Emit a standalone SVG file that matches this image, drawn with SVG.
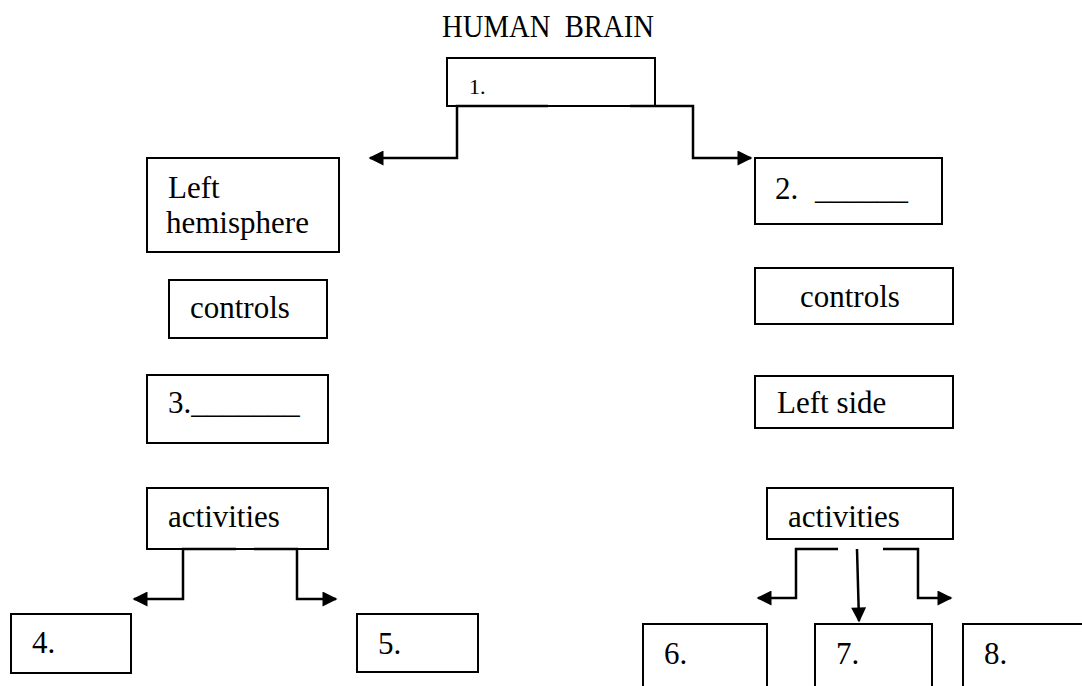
<svg xmlns="http://www.w3.org/2000/svg" width="1082" height="686" viewBox="0 0 1082 686">
<style>
.box{fill:#fff;stroke:#000;stroke-width:2}
.t{font-family:'Liberation Serif',serif;font-size:31px;fill:#000}
.c{fill:none;stroke:#000;stroke-width:2.5}
</style>
<defs>
<marker id="ah" viewBox="0 0 10 10" refX="9" refY="5" markerWidth="7" markerHeight="6" orient="auto" markerUnits="strokeWidth">
<path d="M0,0 L10,5 L0,10 z" fill="#000"/>
</marker>
</defs>
<rect width="1082" height="686" fill="#fff"/>
<g id="title"><text class="t" x="442" y="37" font-size="29" textLength="212" lengthAdjust="spacingAndGlyphs" xml:space="preserve">HUMAN  BRAIN</text></g>
<g id="n1"><rect class="box" x="447" y="58" width="208" height="48"/><text class="t" x="469" y="94" style="font-size:22px">1.</text></g>
<g id="n-lefthem"><rect class="box" x="147" y="158" width="192" height="94"/><text class="t" x="168" y="198">Left</text><text class="t" x="166" y="233">hemisphere</text></g>
<g id="n-controls-l"><rect class="box" x="169" y="280" width="158" height="58"/><text class="t" x="190" y="318">controls</text></g>
<g id="n3"><rect class="box" x="147" y="375" width="181" height="68"/><text class="t" x="168" y="413">3._______</text></g>
<g id="n-act-l"><rect class="box" x="147" y="488" width="181" height="61"/><text class="t" x="168" y="527">activities</text></g>
<g id="n4"><rect class="box" x="11" y="614" width="120" height="59"/><text class="t" x="32" y="653">4.</text></g>
<g id="n5"><rect class="box" x="357" y="614" width="121" height="58"/><text class="t" x="378" y="654">5.</text></g>
<g id="n2"><rect class="box" x="755" y="158" width="187" height="66"/><text class="t" x="775" y="199">2. <tspan x="815">______</tspan></text></g>
<g id="n-controls-r"><rect class="box" x="755" y="268" width="198" height="56"/><text class="t" x="800" y="307">controls</text></g>
<g id="n-leftside"><rect class="box" x="755" y="376" width="198" height="52"/><text class="t" x="777" y="413">Left side</text></g>
<g id="n-act-r"><rect class="box" x="767" y="488" width="186" height="51"/><text class="t" x="788" y="527">activities</text></g>
<g id="n6"><rect class="box" x="643" y="624" width="124" height="80"/><text class="t" x="664" y="664">6.</text></g>
<g id="n7"><rect class="box" x="815" y="624" width="117" height="80"/><text class="t" x="836" y="664">7.</text></g>
<g id="n8"><rect class="box" x="963" y="624" width="140" height="80"/><text class="t" x="984" y="664">8.</text></g>
<g id="connectors">
<path class="c" d="M548,106 H457 V158 H370" marker-end="url(#ah)"/>
<path class="c" d="M630,106 H693 V158 H751" marker-end="url(#ah)"/>
<path class="c" d="M236,549 H183 V599 H134" marker-end="url(#ah)"/>
<path class="c" d="M254,549 H297 V599 H336" marker-end="url(#ah)"/>
<path class="c" d="M838,549 H796 V598 H758" marker-end="url(#ah)"/>
<path class="c" d="M857,549 L859,621" marker-end="url(#ah)"/>
<path class="c" d="M883,549 H918 V598 H951" marker-end="url(#ah)"/>
</g>
</svg>
